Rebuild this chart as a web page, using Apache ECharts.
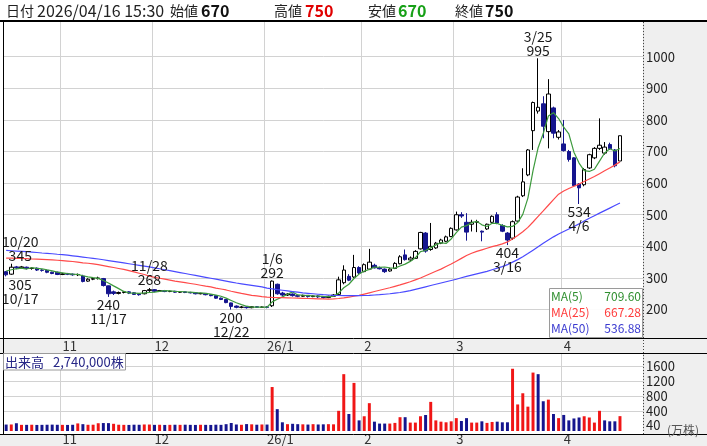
<!DOCTYPE html>
<html><head><meta charset="utf-8">
<script src="https://cdn.jsdelivr.net/npm/echarts@6/dist/echarts.min.js"></script>
<style>html,body{margin:0;padding:0;background:#fff}#c{width:707px;height:446px}</style>
</head><body><div id="c"></div>
<script>
// ---------------- data ----------------
const dates = [
 '10/17','10/20','10/21','10/22','10/23','10/24','10/27','10/28','10/29','10/30','10/31',
 '11/04','11/05','11/06','11/07','11/10','11/11','11/12','11/13','11/14','11/17','11/18','11/19','11/20','11/21','11/25','11/26','11/27','11/28',
 '12/01','12/02','12/03','12/04','12/05','12/08','12/09','12/10','12/11','12/12','12/15','12/16','12/17','12/18','12/19','12/22','12/23','12/24','12/25','12/26','12/29','12/30',
 '01/05','01/06','01/07','01/08','01/09','01/13','01/14','01/15','01/16','01/19','01/20','01/21','01/22','01/23','01/26','01/27','01/28','01/29','01/30',
 '02/02','02/03','02/04','02/05','02/06','02/09','02/10','02/12','02/13','02/16','02/17','02/18','02/19','02/20','02/24','02/25','02/26','02/27',
 '03/02','03/03','03/04','03/05','03/06','03/09','03/10','03/11','03/12','03/13','03/16','03/17','03/18','03/19','03/23','03/24','03/25','03/26','03/27','03/30','03/31',
 '04/01','04/02','04/03','04/06','04/07','04/08','04/09','04/10','04/13','04/14','04/15','04/16'
];
const monthTickLabels = {'11/04':'11','12/01':'12','01/05':'26/1','02/02':'2','03/02':'3','04/01':'4'};
const priceTicks = [200,300,400,500,600,700,800,900,1000];
const volumeTicks = [400,800,1200,1600];

const opens = [320,312,335,332,334,330,331,325,324,318,318,
 311,313,312,310,306,290,296,298,298,275,256,251,254,256,253,249,250,260,
 263,258,260,257,258,255,256,254,253,250,251,247,244,236,232,221,211,207,208,206,209,207,
 208,212,280,252,246,249,244,242,245,241,243,240,238,242,248,285,305,303,333,
 320,328,340,332,328,322,330,345,373,357,362,392,442,390,395,410,416,431,
 452,500,476,470,476,448,455,476,500,466,442,426,480,560,626,766,828,851,763,838,745,
 724,700,680,597,595,648,680,710,695,722,705,670];
const closes = [310,334,332,335,330,331,325,324,318,314,311,
 313,312,310,311,289,296,298,300,276,250,251,254,256,252,248,247,260,263,
 258,260,257,258,255,256,254,253,250,251,247,244,236,232,222,210,207,208,206,209,207,208,
 207,290,250,246,249,244,242,245,241,243,240,238,242,246,294,325,293,333,316,
 342,350,332,329,320,328,346,367,358,363,384,444,385,400,410,420,430,457,
 500,496,445,476,478,445,470,495,474,448,420,478,556,604,705,855,840,780,882,758,762,
 703,675,592,585,643,690,710,720,714,709,655,750];
const lows = [305,310,328,329,327,326,322,320,315,312,309,
 309,309,307,306,286,288,293,295,273,240,246,248,251,249,246,244,248,256,
 255,256,255,255,253,253,252,251,248,248,245,242,234,230,220,200,204,204,203,204,205,205,
 204,208,247,243,243,241,239,240,238,239,237,235,236,240,246,280,290,300,312,
 318,325,330,327,316,320,328,343,355,354,360,390,380,386,392,407,413,429,
 450,490,418,447,445,416,452,474,470,445,404,420,478,556,622,705,820,742,710,742,738,
 700,668,588,534,590,645,676,705,690,705,650,670];
const highs = [322,345,338,338,336,334,333,328,326,320,320,
 316,316,314,314,310,299,301,304,300,276,260,257,259,258,255,251,262,268,
 265,262,262,260,259,258,257,256,255,253,252,248,245,238,233,222,213,211,210,211,211,210,
 211,292,282,256,252,251,247,247,246,245,245,242,244,249,304,340,312,373,337,
 346,392,345,336,330,332,350,372,390,368,388,446,445,474,414,424,434,460,
 510,508,505,484,484,450,472,498,508,470,445,482,560,647,708,858,995,875,929,842,768,
 800,705,682,600,648,693,714,805,730,728,708,750];
// volume in 万株
const volumes = [50,52,85,42,42,45,40,42,45,48,44,
 42,40,44,80,60,44,46,85,90,88,70,45,42,40,46,44,52,50,
 42,44,40,42,45,42,46,42,40,44,42,40,46,42,60,92,52,44,62,56,46,52,
 50,1050,460,110,60,70,60,56,50,60,52,56,60,56,416,1393,331,1160,161,
 271,620,127,76,76,76,94,246,246,102,102,271,305,654,161,127,110,136,
 221,144,221,102,102,136,94,119,127,110,110,1537,586,884,527,1435,1393,671,714,331,221,
 306,161,212,238,271,238,102,416,161,136,136,274];
const ma5Lead = [322,326,329,331];
const ma25 = [363,362.5,362,361.5,361,360,359.5,359,358,357,356,
 355,353.5,352,350,348,346.5,344.5,342,339,336,
 333,330,327,323,319,315,311,306,302,299,
 296,293,290,287.5,285,282.5,280,277,274,271.5,
 268,265,262,258,254.5,251,248,245,243,241,
 239.5,238.5,238,237.5,237,236.5,236,235.5,235,234.5,
 234,233.5,233,233.5,235,237,239.5,242,245,249,
 253,257,261,265,269,273.5,278,283,288,294,
 300,307,314,321,328,336,344,353,362,371,
 378,384,389,394,399,403,408,414,423,434,
 446,460,477,495,512,530,548,565,575,583,
 590,597,605,613,621,630,639,648,657,667.28];
const ma50 = [387,386,385,384,383,382,380.5,379,378,376.5,375,
 374,372,370,368,366,364,362,360,357.5,355,
 352.5,350,347.5,345,342.5,340,337.5,335,332,329,
 326,323,320,317,314,311,308,305,302,299,
 296,293,290,287,284,281.5,279,276.5,274,271.5,
 268,265.5,263,261,259,257,255,253,251.5,250,
 248.5,247,246,245,244.5,244,244,244,244,244.5,
 245,246,247,248.5,250,252,254,257,260,264,
 268,272,276,280,284,288,292,296,300.5,305,
 309,313,317,321,326,331,336,342,350,358,
 367,377,388,399,410,420,430,439,447,455,
 463,471,480,489,497,505,513,521,529,536.88];
const quoteTime = '2026/04/16 15:30';
const peakMarks = [
 {date:'10/20', kind:'high'}, {date:'10/17', kind:'low'},
 {date:'11/28', kind:'high'}, {date:'11/17', kind:'low'},
 {date:'12/22', kind:'low'},  {date:'01/06', kind:'high'},
 {date:'03/16', kind:'low'},  {date:'03/25', kind:'high'},
 {date:'04/06', kind:'low'}
];

// ---------------- styles ----------------
const FONT = '"Noto Sans CJK JP","Noto Sans",sans-serif';
const DOWN = '#15158e';
const VOL_UP = '#f01616';
const GRID_C = '#d2d2d2';
const labelShift = {'10/20': 9, '10/17': 14};

const n = dates.length;
const padSlots = 4;
const cats = dates.concat(Array.from({length: padSlots}, (_, k) => ' '.repeat(k + 1)));
const isMonthStart = idx => monthTickLabels[cats[idx]] !== undefined;
const shortDate = d => d.split('/').map(s => String(parseInt(s, 10))).join('/');

const ma5 = closes.map((c, i) => i < 4 ? ma5Lead[i] :
  +((closes[i-4] + closes[i-3] + closes[i-2] + closes[i-1] + c) / 5).toFixed(2));
const minVol = Math.min(...volumes);

function makeX(gridIndex) {
  return {
    type: 'category', gridIndex, data: cats, boundaryGap: true,
    axisLine: {show: false}, axisTick: {show: false},
    axisLabel: {show: true, interval: idx => isMonthStart(idx), formatter: v => monthTickLabels[v] || '',
      align: 'left', margin: 2, fontSize: 13, color: '#333', fontFamily: FONT},
    splitLine: {show: true, interval: idx => isMonthStart(idx), lineStyle: {color: GRID_C, width: 1}}
  };
}

const chart = echarts.init(document.getElementById('c'));
const last = n - 1;
const fmtInt = v => String(v).replace(/\B(?=(\d{3})+(?!\d))/g, ',');

const T = (x, y, text, size, fill, extra) => Object.assign({
  type: 'text', z: 110, style: Object.assign({x, y, text, fill, font: size + 'px ' + FONT, verticalAlign: 'middle'}, extra || {})
});

chart.setOption({
  animation: false,
  grid: [
    {left: 3.6, right: 64, top: 21, height: 317},
    {left: 3.6, right: 64, top: 353.3, height: 81.2}
  ],
  xAxis: [makeX(0), makeX(1)],
  yAxis: [
    {type: 'value', gridIndex: 0, position: 'right', min: 110, max: 1113,
     axisLine: {show: false}, axisTick: {show: false, customValues: priceTicks},
     axisLabel: {customValues: priceTicks, formatter: v => String(v), margin: 3, fontSize: 13, color: '#222', fontFamily: FONT},
     splitLine: {show: true, lineStyle: {color: GRID_C}}},
    {type: 'value', gridIndex: 1, position: 'right', min: -122, max: 1949,
     axisLine: {show: false}, axisTick: {show: false, customValues: volumeTicks},
     axisLabel: {customValues: [minVol].concat(volumeTicks), formatter: v => String(v), margin: 3, fontSize: 13, fontFamily: FONT,
       color: v => v === minVol ? '#e8742c' : '#222'},
     splitLine: {show: true, lineStyle: {color: GRID_C}}}
  ],
  series: [
    {type: 'candlestick', xAxisIndex: 0, yAxisIndex: 0, barWidth: 4, z: 2,
     data: dates.map((d, i) => [opens[i], closes[i], lows[i], highs[i]]),
     itemStyle: {color: '#ffffff', color0: DOWN, borderColor: '#000000', borderColor0: DOWN, borderWidth: 1},
     markPoint: {
       symbol: 'rect', symbolSize: 0, silent: true,
       label: {fontSize: 14, lineHeight: 14, color: '#1a1a1a', fontFamily: FONT},
       data: peakMarks.map(m => {
         const i = dates.indexOf(m.date);
         const hi = m.kind === 'high';
         const v = hi ? highs[i] : lows[i];
         const md = shortDate(m.date);
         return {coord: [i, v], value: v,
           label: {show: true, position: hi ? 'top' : 'bottom', distance: 1,
             offset: [labelShift[m.date] || 0, 0],
             formatter: hi ? md + '\n' + v : v + '\n' + md}};
       })
     }},
    {type: 'line', name: 'MA(5)', xAxisIndex: 0, yAxisIndex: 0, data: ma5, showSymbol: false, z: 3,
     lineStyle: {color: '#3d9a3d', width: 1.2}},
    {type: 'line', name: 'MA(25)', xAxisIndex: 0, yAxisIndex: 0, data: ma25, showSymbol: false, z: 3,
     lineStyle: {color: '#ff4a4a', width: 1.2}},
    {type: 'line', name: 'MA(50)', xAxisIndex: 0, yAxisIndex: 0, data: ma50, showSymbol: false, z: 3,
     lineStyle: {color: '#4a4aff', width: 1.2}},
    {type: 'custom', xAxisIndex: 1, yAxisIndex: 1, clip: false, z: 2,
     data: volumes.map((v, i) => [i, v, closes[i] >= (i > 0 ? closes[i-1] : opens[i]) ? 1 : 0]),
     encode: {x: 0, y: 1},
     renderItem: (params, api) => {
       const top = api.coord([api.value(0), api.value(1)]);
       const cs = params.coordSys;
       const w = api.size([1, 0])[0] * 0.58;
       const bottom = cs.y + cs.height;
       return {type: 'rect', shape: {x: top[0] - w / 2, y: top[1], width: w, height: bottom - top[1]},
         style: {fill: api.value(2) ? VOL_UP : DOWN}};
     }}
  ],
  graphic: [
    // backgrounds
    {type: 'rect', z: -10, shape: {x: 643.5, y: 21, width: 64, height: 425}, style: {fill: '#efefef'}},
    {type: 'rect', z: -10, shape: {x: 0, y: 338, width: 707, height: 15.3}, style: {fill: '#efefef'}},
    {type: 'rect', z: -10, shape: {x: 0, y: 434.5, width: 707, height: 12}, style: {fill: '#efefef'}},
    // frame
    {type: 'line', z: 100, shape: {x1: 0, y1: 21, x2: 707, y2: 21}, style: {stroke: '#000', lineWidth: 2}},
    {type: 'line', z: 100, shape: {x1: 3.5, y1: 21, x2: 3.5, y2: 434.5}, style: {stroke: '#000', lineWidth: 1}},
    {type: 'line', z: 100, shape: {x1: 0, y1: 338.5, x2: 707, y2: 338.5}, style: {stroke: '#000', lineWidth: 1}},
    {type: 'line', z: 100, shape: {x1: 0, y1: 353.5, x2: 707, y2: 353.5}, style: {stroke: '#000', lineWidth: 1}},
    {type: 'line', z: 100, shape: {x1: 0, y1: 434.5, x2: 707, y2: 434.5}, style: {stroke: '#000', lineWidth: 1}},
    {type: 'line', z: 100, shape: {x1: 643.5, y1: 22, x2: 643.5, y2: 434}, style: {stroke: '#444', lineWidth: 1, lineDash: [1, 2]}},
    // header
    T(6, 11, '日付', 14, '#222'),
    T(37, 11, quoteTime, 16, '#222'),
    T(170, 11, '始値', 14, '#222'),
    T(201, 11, String(opens[last]), 16, '#111', {font: 'bold 16px ' + FONT}),
    T(274, 11, '高値', 14, '#222'),
    T(305, 11, String(highs[last]), 16, '#e00000', {font: 'bold 16px ' + FONT}),
    T(368, 11, '安値', 14, '#222'),
    T(398, 11, String(lows[last]), 16, '#17a017', {font: 'bold 16px ' + FONT}),
    T(455, 11, '終値', 14, '#222'),
    T(485, 11, String(closes[last]), 16, '#111', {font: 'bold 16px ' + FONT}),
    // MA legend box
    {type: 'rect', z: 105, shape: {x: 549.5, y: 288.5, width: 93, height: 49}, style: {fill: 'rgba(255,255,255,0.92)', stroke: '#9a9a9a', lineWidth: 1}},
    T(551, 296, 'MA(5)', 12, '#2f8f2f'),
    T(641, 296, ma5[last].toFixed(2), 12, '#2f8f2f', {align: 'right'}),
    T(551, 312, 'MA(25)', 12, '#ff3a3a'),
    T(641, 312, ma25[last].toFixed(2), 12, '#ff3a3a', {align: 'right'}),
    T(551, 328, 'MA(50)', 12, '#3a3ad0'),
    T(641, 328, ma50[last].toFixed(2), 12, '#3a3ad0', {align: 'right'}),
    // volume label box
    {type: 'rect', z: 105, shape: {x: 3.5, y: 353.5, width: 122, height: 16.5}, style: {fill: 'rgba(255,255,255,0.95)', stroke: '#9a9a9a', lineWidth: 1}},
    T(5, 362, '出来高', 13, '#262686'),
    T(53, 362, fmtInt(volumes[last] * 10000) + '株', 13, '#262686'),
    T(667, 430, '(万株)', 12, '#555')
  ]
});
</script></body></html>
